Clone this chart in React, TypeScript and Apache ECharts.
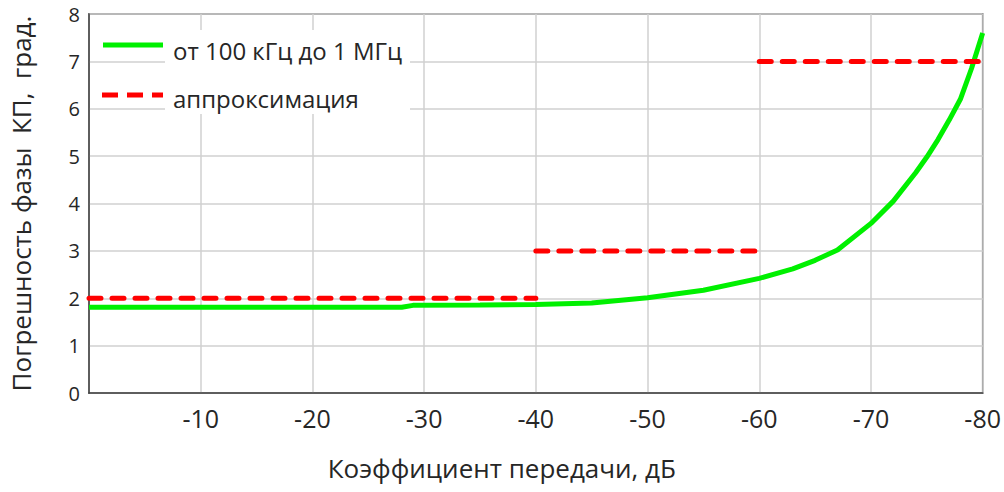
import React, { useEffect, useRef } from "react";
import * as echarts from "echarts";

const greenX = [0, -10, -20, -28, -29, -35, -40, -45, -50, -55, -60, -63, -65, -67, -70, -72, -74, -75, -76, -77, -78, -79, -80];
const greenY = [1.81, 1.81, 1.81, 1.81, 1.85, 1.86, 1.87, 1.9, 2.01, 2.17, 2.42, 2.62, 2.8, 3.02, 3.58, 4.05, 4.65, 4.98, 5.35, 5.76, 6.2, 6.85, 7.6];

const approxSegments = [
  { from: 0, to: -40, value: 2 },
  { from: -40, to: -60, value: 3 },
  { from: -60, to: -80, value: 7 },
];

const greenName = "от 100 кГц до 1 МГц";
const redName = "аппроксимация";
const xTitle = "Коэффициент передачи, дБ";
const yTitle = "Погрешность фазы  КП,  град.";

const FONT = "Open Sans";
const GREEN = "#00f000";
const RED = "#ff0000";
const TEXT = "#262626";

export default function App() {
  const ref = useRef<HTMLDivElement>(null);
  useEffect(() => {
    if (!ref.current) return;
    const chart = echarts.init(ref.current, undefined, { renderer: "svg" });
    const redData: any[] = [];
    approxSegments.forEach((s, i) => {
      if (i > 0) redData.push([s.from, null]);
      redData.push([s.from, s.value]);
      redData.push([s.to, s.value]);
    });
    chart.setOption({
      animation: false,
      textStyle: { fontFamily: FONT },
      grid: {
        left: 89,
        right: 15,
        top: 14,
        bottom: 99,
        show: true,
        borderColor: "#404040",
        borderWidth: 1.5,
        backgroundColor: "transparent",
      },
      graphic: [
        {
          type: "rect",
          z: 1,
          shape: { x: 165, y: 30, width: 245, height: 84 },
          style: { fill: "#ffffff" },
        },
        {
          type: "line",
          z: 5,
          shape: { x1: 103, y1: 45, x2: 163, y2: 45 },
          style: { stroke: GREEN, lineWidth: 5 },
        },
        {
          type: "line",
          z: 5,
          shape: { x1: 102, y1: 95, x2: 163, y2: 95 },
          style: { stroke: RED, lineWidth: 5, lineDash: [16, 9] },
        },
        {
          type: "text",
          z: 5,
          x: 173,
          y: 50,
          style: {
            text: greenName,
            fontFamily: FONT,
            fontSize: 24,
            fill: TEXT,
            verticalAlign: "middle",
            align: "left",
          },
        },
        {
          type: "text",
          z: 5,
          x: 173,
          y: 98,
          style: {
            text: redName,
            fontFamily: FONT,
            fontSize: 24,
            fill: TEXT,
            verticalAlign: "middle",
            align: "left",
          },
        },
      ],
      xAxis: {
        type: "value",
        min: -80,
        max: 0,
        interval: 10,
        inverse: true,
        name: xTitle,
        nameLocation: "middle",
        nameGap: 62,
        nameTextStyle: { fontFamily: FONT, fontSize: 26, color: TEXT, padding: [0, 68, 0, 0] },
        axisLine: { show: true, lineStyle: { color: "#404040", width: 1.5 } },
        axisTick: { show: false },
        axisLabel: {
          fontFamily: FONT,
          fontSize: 25,
          color: TEXT,
          margin: 12,
          formatter: (v: number) => (v === 0 ? "" : String(v)),
        },
        splitLine: { show: true, lineStyle: { color: "#d0d0d0", width: 1.5 } },
      },
      yAxis: {
        type: "value",
        min: 0,
        max: 8,
        interval: 1,
        name: yTitle,
        nameLocation: "middle",
        nameGap: 55,
        nameTextStyle: { fontFamily: FONT, fontSize: 26, color: TEXT },
        axisLine: { show: true, lineStyle: { color: "#404040", width: 1.5 } },
        axisTick: { show: false },
        axisLabel: { fontFamily: FONT, fontSize: 20, color: TEXT, margin: 9 },
        splitLine: { show: true, lineStyle: { color: "#d0d0d0", width: 1.5 } },
      },
      series: [
        {
          name: greenName,
          type: "line",
          showSymbol: false,
          symbol: "none",
          z: 3,
          lineStyle: { color: GREEN, width: 5 },
          itemStyle: { color: GREEN },
          data: greenX.map((x, i) => [x, greenY[i]]),
        },
        {
          name: redName,
          type: "line",
          showSymbol: false,
          symbol: "none",
          connectNulls: false,
          z: 4,
          lineStyle: { color: RED, width: 5, type: [12, 11], cap: "round" },
          itemStyle: { color: RED },
          data: redData,
        },
      ],
    });
    return () => chart.dispose();
  }, []);
  return (
    <div
      ref={ref}
      style={{ position: "absolute", left: 0, top: 0, width: 1004, height: 492 }}
    />
  );
}
